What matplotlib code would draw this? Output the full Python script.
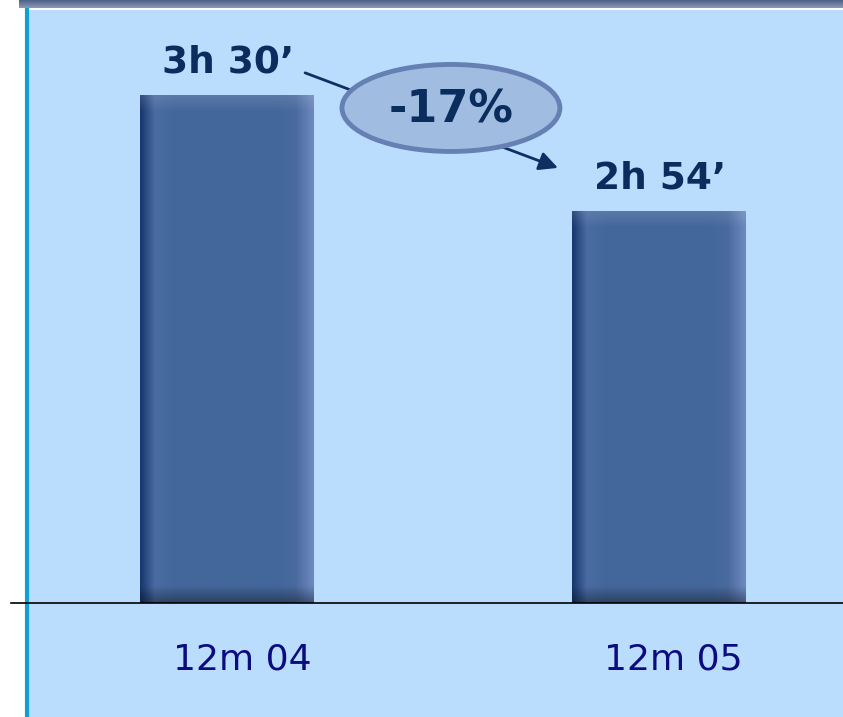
import matplotlib.pyplot as plt
import matplotlib.colors as colors
from matplotlib.patches import Ellipse
import numpy as np

# data: average time in minutes
periods = ['12m 04', '12m 05']
minutes = [210, 174]
value_labels = ['3h 30\u2019', '2h 54\u2019']
base = 52.3  # value at the baseline

W, H = 843, 717
fig = plt.figure(figsize=(W / 100, H / 100), dpi=100)
fig.patch.set_facecolor('white')

# top dark strip
top = fig.add_axes([19 / W, (H - 8) / H, (W - 19) / W, 8 / H])
strip = np.linspace(0, 1, 20).reshape(-1, 1)
top.imshow(strip, aspect='auto', extent=[0, 1, 0, 1],
           cmap=colors.LinearSegmentedColormap.from_list('s', ['#4E6188', '#8A9AB8']))
top.axis('off')

ax = fig.add_axes([27 / W, 0, (W - 27) / W, (H - 10) / H])
ax.set_facecolor('#BBDDFD')
for s in ['top', 'right', 'bottom']:
    ax.spines[s].set_visible(False)
ax.spines['left'].set_color('#12A0D0')
ax.spines['left'].set_linewidth(3)
ax.set_xticks([])
ax.set_yticks([])

# bars with a shaded gradient
x = np.arange(len(periods))
width = 0.403
bar_cmap = colors.LinearSegmentedColormap.from_list(
    'bar', ['#1A3870', '#4A6CA2', '#44679B', '#44679B', '#4A6A9E', '#6C88BE'])
prof = np.concatenate([np.linspace(0, 0.3, 12), np.linspace(0.3, 0.45, 8),
                       np.full(50, 0.5), np.linspace(0.55, 0.75, 12),
                       np.linspace(0.8, 1.0, 10)])
for xi, v in zip(x, minutes):
    rows = 200
    bars = ax.bar(xi, v - base, width=width, bottom=base, color='none', zorder=2)
    h_units = v - base
    yy = np.linspace(1, 0, rows).reshape(-1, 1) * h_units
    rgba = bar_cmap(np.tile(prof, (rows, 1)))
    # darker near the bottom, a touch lighter at the top
    shade = (np.clip(1 - yy / 5.0, 0, 1) * 0.35).reshape(rows, 1, 1)
    rgba[..., :3] = rgba[..., :3] * (1 - shade)
    light = (np.clip(1 - (h_units - yy) / 5.0, 0, 1) * 0.12).reshape(rows, 1, 1)
    rgba[..., :3] = rgba[..., :3] + (1 - rgba[..., :3]) * light
    im = ax.imshow(rgba, aspect='auto', zorder=2, interpolation='bilinear',
                   extent=[xi - width / 2, xi + width / 2, base, v])
    im.set_clip_path(bars[0])

ax.set_xlim(-0.4635, 1.4276)
ax.set_ylim(16.9, 236.3)

# baseline
ax.axhline(base, xmin=-0.02, xmax=1, color='black', lw=1.2, zorder=3, clip_on=False)

# value labels
for xi, v, lab in zip(x, minutes, value_labels):
    ax.text(xi + 0.003, v + 10, lab, ha='center', va='center', fontsize=27,
            fontweight='bold', color='#0B2D5E', zorder=4)

# category labels
for xi, lab in zip(x, periods):
    ax.text(xi + 0.035, base - 17.7, lab, ha='center', va='center', fontsize=26,
            color='#0C0C80', zorder=4)

# change arrow and ellipse
change = (minutes[1] - minutes[0]) / minutes[0] * 100
ax.annotate('', xy=(1 - 0.233, minutes[1] + 13.3), xytext=(0 + 0.181, minutes[0] + 6.8),
            arrowprops=dict(arrowstyle='-|>', color='#0E2F62', lw=2,
                            mutation_scale=28, shrinkA=0, shrinkB=0), zorder=4)
mid_x = 0.519
mid_y = 205.9
ax.add_patch(Ellipse((mid_x, mid_y), 0.505, 27, facecolor='#A0BCE0',
                     edgecolor='#6680B4', lw=3.5, zorder=5))
ax.text(mid_x, mid_y - 0.5, '%d%%' % round(change), ha='center', va='center',
        fontsize=32, fontweight='bold', color='#0B2D5E', zorder=6)

fig.savefig('out.png', dpi=100)
